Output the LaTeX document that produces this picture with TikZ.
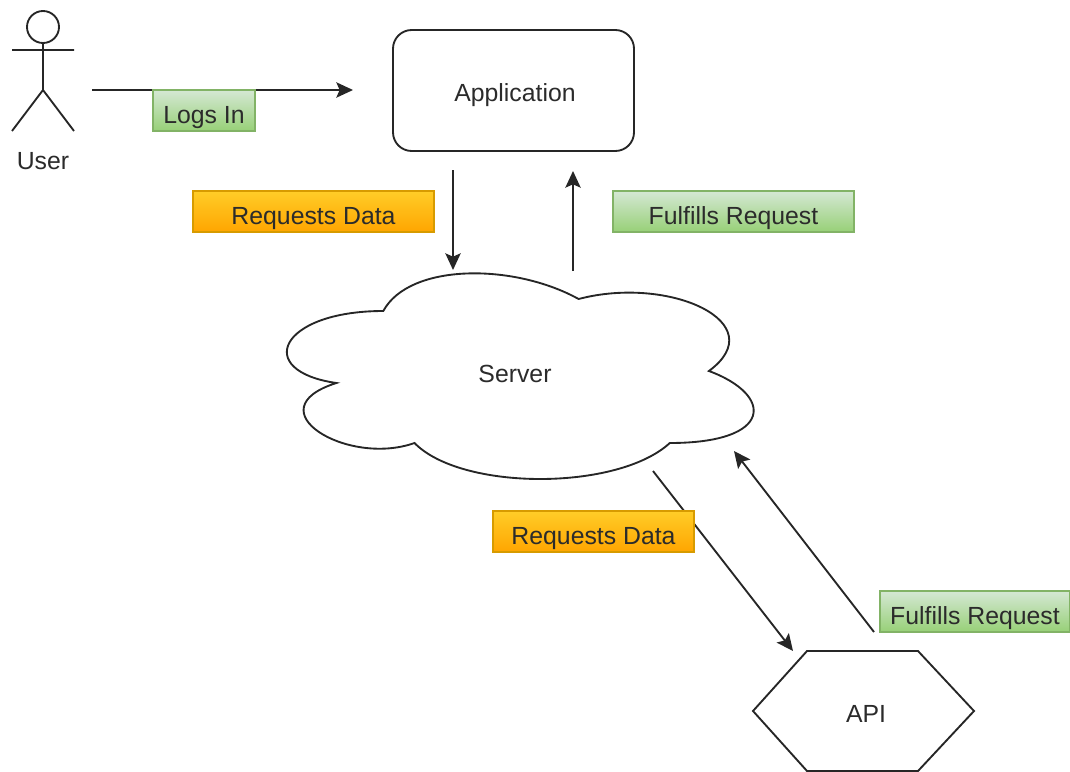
\documentclass[tikz,border=0pt]{standalone}
\usepackage{fontspec}
\setmainfont{Liberation Sans}
\usetikzlibrary {arrows.meta,positioning}

\definecolor{inkgray}{HTML}{2B2B2B}
\definecolor{greentop}{HTML}{D5E8D4}
\definecolor{greenbot}{HTML}{97D077}
\definecolor{greenline}{HTML}{82B366}
\definecolor{orangetop}{HTML}{FFCD28}
\definecolor{orangebot}{HTML}{FFA500}
\definecolor{orangeline}{HTML}{D79B00}

\tikzset{
    every node/.style={font=\fontsize{18.6}{20}\selectfont, text=inkgray},
    line/.style={draw=black!85, line width=1.4pt},
    flow/.style={line, -{Stealth[length=12.5pt,width=11.5pt,inset=2.5pt]}},
    tag/.style={draw, line width=0.9pt, inner sep=0pt, minimum height=30.75pt, text height=19pt, text depth=0pt},
    greentag/.style={tag, draw=greenline, top color=greentop, bottom color=greenbot},
    orangetag/.style={tag, draw=orangeline, top color=orangetop, bottom color=orangebot},
}

\begin{document}
\begin{tikzpicture}[x=0.75pt,y=-0.75pt]
    \useasboundingbox (0,0) rectangle (1070,771);

    % user
    \node[circle, line, minimum size=24pt, inner sep=0pt] (head) at (43,27) {};
    \coordinate (hip) at (43,90);
    \coordinate (handl) at (12,50);
    \coordinate (handr) at (74,50);
    \coordinate (footl) at (12,131);
    \coordinate (footr) at (74,131);
    \node (user) at (43,161) {User};
    \draw[line] (head.south) -- (hip) (handl) -- (handr) (footl) -- (hip) -- (footr);

    % application
    \node[line, rounded corners=14pt, minimum width=180.75pt, minimum height=90.75pt] (app) at (513.5,90.5) {};
    \node (apptext) at (515,95) {Application};

    % server
    \draw[line] (383.3,311)
        .. controls (279,311) and (253,371) .. (336.4,383)
        .. controls (253,409.4) and (346.8,467) .. (414.5,443)
        .. controls (461.4,491) and (617.7,491) .. (669.8,443)
        .. controls (774,443) and (774,395) .. (708.9,371)
        .. controls (774,323) and (669.8,275) .. (578.6,299)
        .. controls (513.5,263) and (409.3,263) .. (383.3,311) -- cycle;
    \node (server) at (515,374) {Server};

    % api
    \draw[line] (753,711) -- (807,651) -- (918,651) -- (974,711) -- (918,771) -- (807,771) -- cycle;
    \node (api) at (866,714) {API};

    \coordinate (login0) at (92,90);
    \coordinate (login1) at (353,90);
    \coordinate (down0) at (453,170);
    \coordinate (down1) at (453,270);
    \coordinate (up0) at (573,271);
    \coordinate (up1) at (573,171);
    \coordinate (diag0) at (653,471);
    \coordinate (diag1) at (793,651);
    \coordinate (back0) at (874,632);
    \coordinate (back1) at (734,451);

    \draw[flow] (login0) -- (login1);
    \draw[flow] (down0) -- (down1);
    \draw[flow] (up0) -- (up1);
    \draw[flow] (diag0) -- (diag1);
    \draw[flow] (back0) -- (back1);

    \node[greentag, minimum width=76.5pt] (logsin) at (204,110.5) {Logs In};
    \node[orangetag, minimum width=180.75pt] (reqapp) at (313.5,211.5) {Requests Data};
    \node[greentag, minimum width=180.75pt] (fulapp) at (733.5,211.5) {Fulfills Request};
    \node[orangetag, minimum width=150.75pt] (reqapi) at (593.5,531.5) {Requests Data};
    \node[greentag, minimum width=142.5pt] (fulapi) at (975,611.5) {Fulfills Request};
\end{tikzpicture}
\end{document}
